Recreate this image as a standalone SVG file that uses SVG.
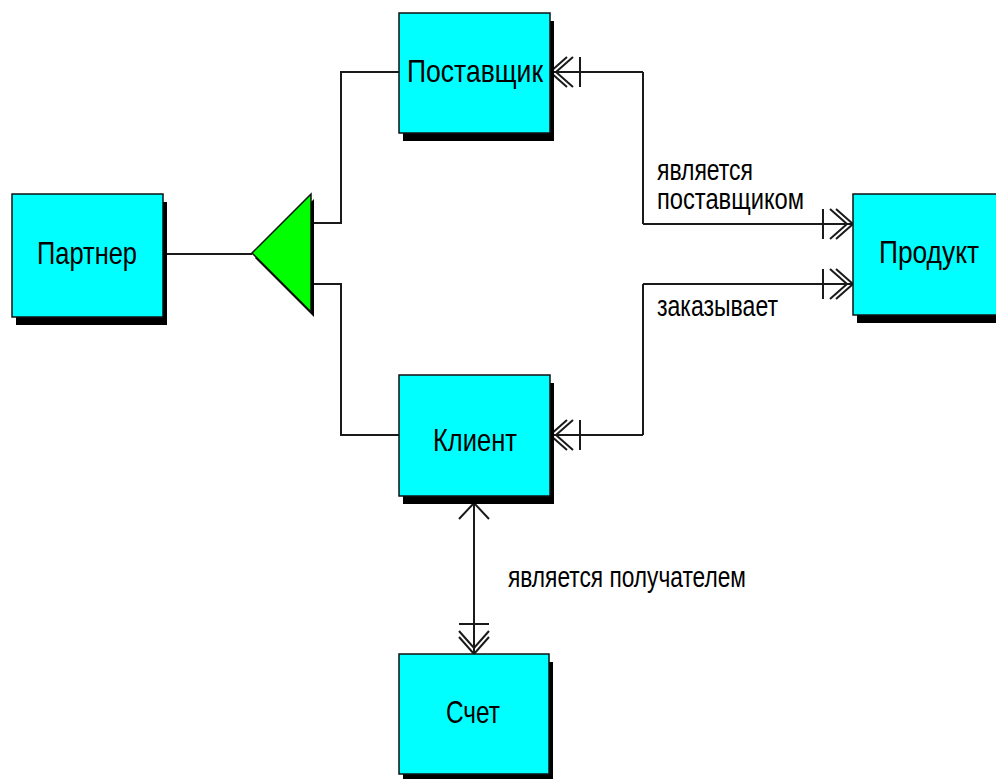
<svg xmlns="http://www.w3.org/2000/svg" width="996" height="779" viewBox="0 0 996 779">
  <style>
    .box { fill: #00ffff; stroke: #111; stroke-width: 1.5; }
    .shadow { fill: #000; }
    .name { font-family: "Liberation Sans", Arial, sans-serif; font-size: 32px; fill: #000; text-anchor: middle; }
    .label { font-family: "Liberation Sans", Arial, sans-serif; font-size: 30px; fill: #000; }
    .link { fill: none; stroke: #1a1a1a; stroke-width: 2; }
    .mk { fill: none; stroke: #1a1a1a; stroke-width: 2; }
  </style>
  <defs>
    <!-- one-to-many end: double chevron plus bar -->
    <marker id="many" markerUnits="userSpaceOnUse" orient="auto" viewBox="-40 -20 44 40" refX="0" refY="0" markerWidth="44" markerHeight="40" overflow="visible">
      <path class="mk" d="M-17,-15 L0,0 L-17,15 M-23,-15 L-6,0 L-23,15 M-30,-15 V15"/>
    </marker>
    <!-- single chevron end -->
    <marker id="one" markerUnits="userSpaceOnUse" orient="auto" viewBox="-20 -20 24 40" refX="0" refY="0" markerWidth="24" markerHeight="40" overflow="visible">
      <path class="mk" d="M-16,-15 L0,0 L-16,15"/>
    </marker>
  </defs>

  <rect width="996" height="779" fill="#fff"/>

  <g id="connectors">
    <!-- Партнер to subtype triangle -->
    <path class="link" d="M163,254 H252"/>
    <!-- triangle to subtypes -->
    <path class="link" d="M311,223 H341 V72 H399"/>
    <path class="link" d="M311,284 H341 V435 H399"/>
    <!-- Поставщик — Продукт -->
    <path class="link" d="M643,72 V224" />
    <path class="link" d="M643,72 H550" marker-end="url(#many)"/>
    <path class="link" d="M643,224 H853" marker-end="url(#many)"/>
    <!-- Клиент — Продукт -->
    <path class="link" d="M643,435 V284"/>
    <path class="link" d="M643,284 H853" marker-end="url(#many)"/>
    <path class="link" d="M643,435 H550" marker-end="url(#many)"/>
    <!-- Клиент — Счет -->
    <path class="link" d="M474,580 V503" marker-end="url(#one)"/>
    <path class="link" d="M474,580 V654" marker-end="url(#many)"/>
    <text class="label" x="657" y="180" textLength="96" lengthAdjust="spacingAndGlyphs">является</text>
    <text class="label" x="657" y="209" textLength="147" lengthAdjust="spacingAndGlyphs">поставщиком</text>
    <text class="label" x="657" y="316" textLength="121" lengthAdjust="spacingAndGlyphs">заказывает</text>
    <text class="label" x="508" y="587" textLength="238" lengthAdjust="spacingAndGlyphs">является получателем</text>
  </g>

  <g id="subtype">
    <polygon class="shadow" points="255,258 314,199 314,317"/>
    <polygon points="252,253 311,194 311,312" fill="#00ff00" stroke="#111" stroke-width="1.5"/>
  </g>

  <g id="partner">
    <rect class="shadow" x="16" y="202" width="151" height="123"/>
    <rect class="box" x="12" y="194" width="151" height="123"/>
    <text class="name" x="87" y="264" textLength="100" lengthAdjust="spacingAndGlyphs">Партнер</text>
  </g>

  <g id="supplier">
    <rect class="shadow" x="403" y="21" width="151" height="120"/>
    <rect class="box" x="399" y="13" width="151" height="120"/>
    <text class="name" x="475" y="82" textLength="136" lengthAdjust="spacingAndGlyphs">Поставщик</text>
  </g>

  <g id="product">
    <rect class="shadow" x="857" y="202" width="151" height="121"/>
    <rect class="box" x="853" y="194" width="151" height="121"/>
    <text class="name" x="929" y="263" textLength="100" lengthAdjust="spacingAndGlyphs">Продукт</text>
  </g>

  <g id="client">
    <rect class="shadow" x="403" y="383" width="151" height="121"/>
    <rect class="box" x="399" y="375" width="151" height="121"/>
    <text class="name" x="475" y="451" textLength="84" lengthAdjust="spacingAndGlyphs">Клиент</text>
  </g>

  <g id="invoice">
    <rect class="shadow" x="403" y="662" width="150" height="120"/>
    <rect class="box" x="399" y="654" width="150" height="120"/>
    <text class="name" x="473" y="723" textLength="54" lengthAdjust="spacingAndGlyphs">Счет</text>
  </g>
</svg>
